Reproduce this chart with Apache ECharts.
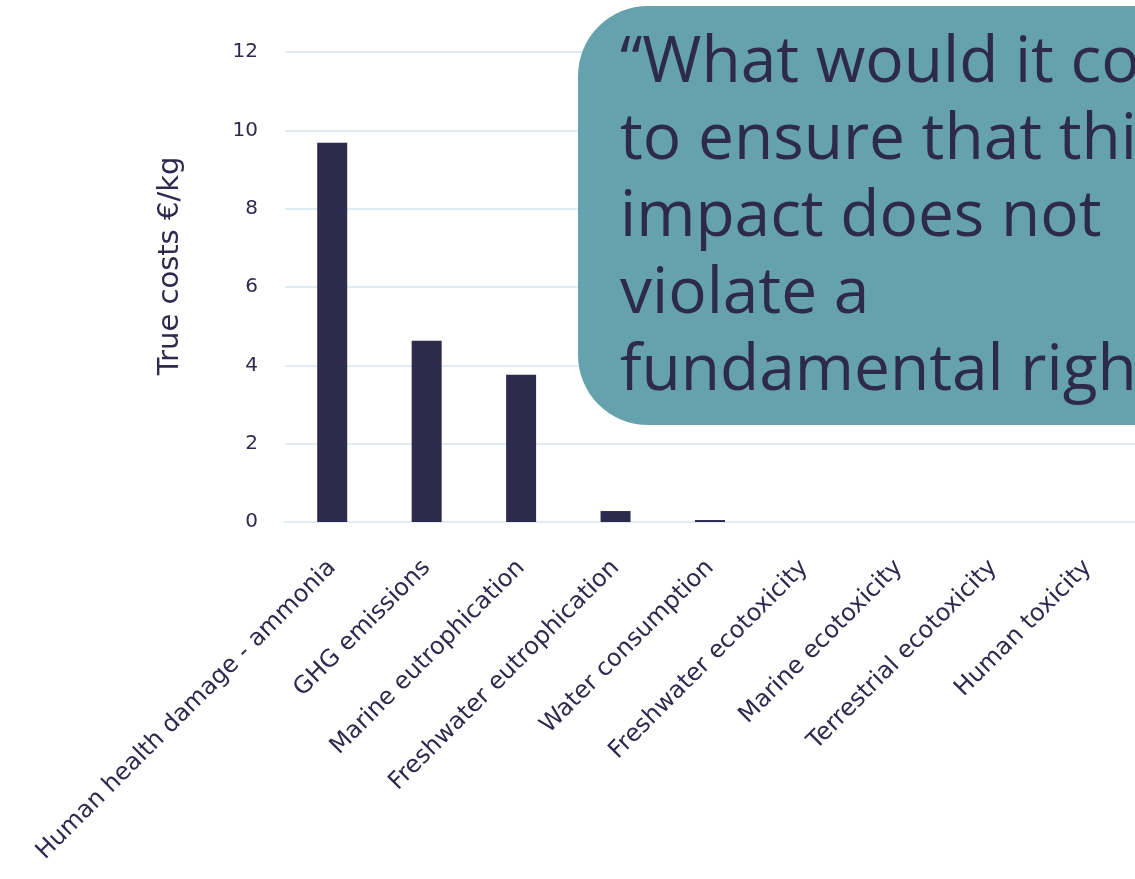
<!DOCTYPE html>
<html>
<head>
<meta charset="utf-8">
<script src="https://cdn.jsdelivr.net/npm/echarts@6/dist/echarts.min.js"></script>
<style>html,body{margin:0;padding:0;background:#fff;overflow:hidden}#c{width:1135px;height:879px}</style>
</head>
<body>
<div id="c"></div>
<script>
const categories = ["Human health damage - ammonia","GHG emissions","Marine eutrophication","Freshwater eutrophication","Water consumption","Freshwater ecotoxicity","Marine ecotoxicity","Terrestrial ecotoxicity","Human toxicity"];
const trueCosts = [9.68, 4.63, 3.76, 0.28, 0.05, 0, 0, 0, 0];
const yTicks = [0, 2, 4, 6, 8, 10, 12];
const quoteLines = ["\u201CWhat would it cost", "to ensure that this", "impact does not", "violate a", "fundamental right?\u201D"];
const yAxisName = "True costs \u20AC/kg";

const navy = '#2d2a4e';
const font = '"DejaVu Sans", sans-serif';
const quoteFont = '"Open Sans", Lato, sans-serif';
const chart = echarts.init(document.getElementById('c'));
chart.setOption({
  animation: false,
  grid: {left: 285, top: 52, width: 855, bottom: 357},
  xAxis: {
    type: 'category', data: categories,
    axisLine: {show: true, lineStyle: {color: '#deedf2', width: 2}},
    axisTick: {show: false},
    axisLabel: {rotate: 45, color: navy, fontSize: 24, fontFamily: font, margin: 42, interval: 0}
  },
  yAxis: {
    type: 'value', min: yTicks[0], max: yTicks[yTicks.length-1], interval: 2,
    axisLine: {show: false}, axisTick: {show: false},
    axisLabel: {color: navy, fontSize: 20, fontFamily: font, margin: 27},
    splitLine: {lineStyle: {color: '#deedf2', width: 2}}
  },
  series: [{type: 'bar', data: trueCosts, barWidth: 30, itemStyle: {color: navy}}],
  graphic: [
    {type: 'text', x: 170, y: 266, rotation: Math.PI / 2, z: 50,
     style: {text: yAxisName, fill: navy, font: '29px ' + font, textAlign: 'center', textVerticalAlign: 'middle'}},
    {
    type: 'group', left: 578, top: 6, z: 100,
    children: [
      {type: 'rect', z: 100, shape: {x: 0, y: 0, width: 700, height: 419, r: 70}, style: {fill: '#65a2ad'}},
      {type: 'text', z: 101, x: 42, y: 19, style: {text: quoteLines.join('\n'), fill: navy, font: '64px ' + quoteFont, lineHeight: 77}}
    ]
  }]
});
</script>
</body>
</html>
